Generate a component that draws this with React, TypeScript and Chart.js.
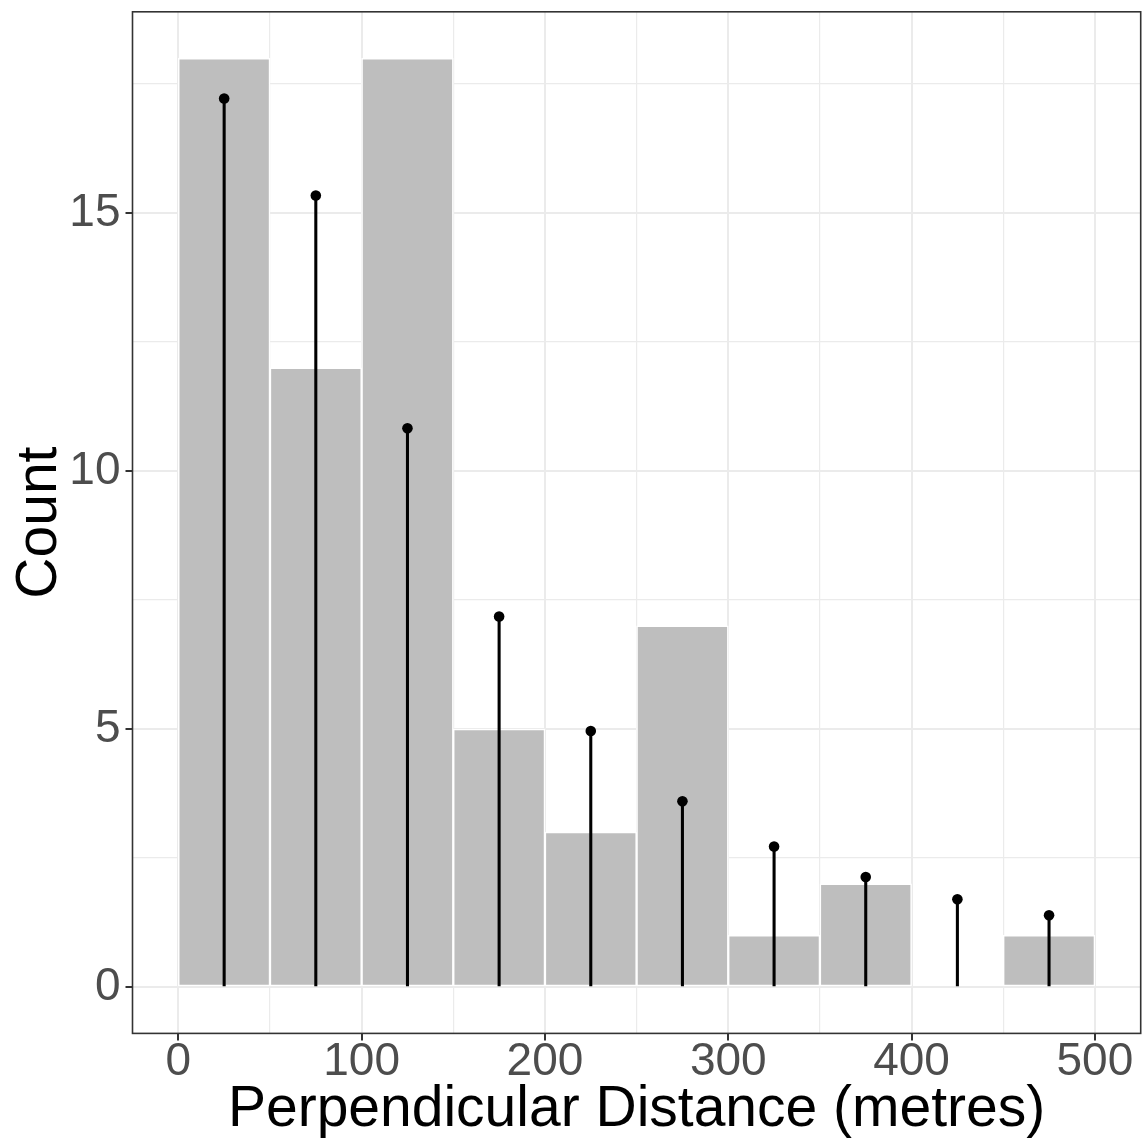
import React, { useEffect, useRef } from "react";
import { Chart, registerables } from "chart.js";

Chart.register(...registerables);

const binCentres = [25, 75, 125, 175, 225, 275, 325, 375, 425, 475];
const observedCounts = [18, 12, 18, 5, 3, 7, 1, 2, 0, 1];
const expectedCounts = [17.22, 15.34, 10.83, 7.18, 4.96, 3.6, 2.72, 2.13, 1.7, 1.39];
const xTicks = [0, 50, 100, 150, 200, 250, 300, 350, 400, 450, 500];
const yTicks = [0, 2.5, 5, 7.5, 10, 12.5, 15, 17.5];
const xTitle = "Perpendicular Distance (metres)";
const yTitle = "Count";

const FONT = "'Liberation Sans', Arial, Helvetica, sans-serif";

const panelBorder = {
  id: "panelBorder",
  afterDraw(chart: any) {
    const { ctx, chartArea } = chart;
    ctx.save();
    ctx.strokeStyle = "#333333";
    ctx.lineWidth = 1.6;
    ctx.strokeRect(chartArea.left, chartArea.top, chartArea.right - chartArea.left, chartArea.bottom - chartArea.top);
    ctx.restore();
  },
};

export default function App() {
  const ref = useRef<HTMLCanvasElement | null>(null);
  useEffect(() => {
    if (!ref.current) return;
    const chart = new Chart(ref.current, {
      type: "bar",
      data: {
        datasets: [
          {
            type: "scatter",
            data: binCentres.map((x, i) => ({ x, y: expectedCounts[i] })),
            backgroundColor: "#000000",
            borderColor: "#000000",
            pointRadius: 5.3,
            pointBorderWidth: 0,
            order: 0,
          } as any,
          {
            type: "bar",
            data: binCentres.map((x, i) => ({ x, y: expectedCounts[i] })),
            backgroundColor: "#000000",
            borderWidth: 0,
            barThickness: 2.4,
            grouped: false,
            order: 1,
          } as any,
          {
            type: "bar",
            data: binCentres.map((x, i) => ({ x, y: observedCounts[i] })),
            backgroundColor: "#BEBEBE",
            borderColor: "#FFFFFF",
            borderWidth: 1.5,
            borderSkipped: false,
            barPercentage: 1,
            categoryPercentage: 1,
            grouped: false,
            order: 2,
          } as any,
        ],
      },
      options: {
        responsive: false,
        animation: false,
        layout: { padding: { top: 11.8, right: 2, left: 0, bottom: 0 } },
        plugins: { legend: { display: false }, tooltip: { enabled: false } },
        scales: {
          x: {
            type: "linear",
            offset: false,
            min: -25,
            max: 525,
            afterBuildTicks: (s: any) => {
              s.ticks = xTicks.map((v) => ({ value: v }));
            },
            afterFit: (s: any) => {
              s.height = 112.6;
              s.paddingLeft = 0;
              s.paddingRight = 0;
            },
            ticks: {
              autoSkip: false,
              maxRotation: 0,
              padding: -1.5,
              color: "#4D4D4D",
              font: { family: FONT, size: 46, lineHeight: 1 },
              callback: (v: any) => (Number(v) % 100 === 0 ? String(v) : ""),
            },
            grid: {
              offset: false,
              color: "#EBEBEB",
              lineWidth: (c: any) => (c.tick && c.tick.value % 100 === 0 ? 2 : 1.2),
              tickLength: 7,
              tickColor: (c: any) => (c.tick && c.tick.value % 100 === 0 ? "#333333" : "rgba(0,0,0,0)"),
              tickWidth: 2,
            },
            border: { display: false },
            title: {
              display: true,
              text: xTitle,
              color: "#000000",
              font: { family: FONT, size: 57 },
              padding: { top: 0, bottom: 1.8 },
            },
          },
          y: {
            type: "linear",
            min: -0.9,
            max: 18.9,
            afterBuildTicks: (s: any) => {
              s.ticks = yTicks.map((v) => ({ value: v }));
            },
            afterFit: (s: any) => {
              s.width = 132.5;
              s.paddingTop = 0;
              s.paddingBottom = 0;
            },
            ticks: {
              autoSkip: false,
              padding: 5,
              color: "#4D4D4D",
              font: { family: FONT, size: 46 },
              callback: (v: any) => (Number(v) % 5 === 0 ? String(v) : ""),
            },
            grid: {
              color: "#EBEBEB",
              lineWidth: (c: any) => (c.tick && c.tick.value % 5 === 0 ? 2 : 1.2),
              tickLength: 7,
              tickColor: (c: any) => (c.tick && c.tick.value % 5 === 0 ? "#333333" : "rgba(0,0,0,0)"),
              tickWidth: 2,
            },
            border: { display: false },
            title: {
              display: true,
              text: yTitle,
              color: "#000000",
              font: { family: FONT, size: 57 },
              padding: { top: 6, bottom: 0 },
            },
          },
        },
      },
      plugins: [panelBorder],
    });
    return () => chart.destroy();
  }, []);
  return (
    <div style={{ position: "absolute", left: 0, top: 0, width: 1146, height: 1146, background: "#FFFFFF" }}>
      <canvas ref={ref} width={1146} height={1146} style={{ display: "block" }} />
    </div>
  );
}
